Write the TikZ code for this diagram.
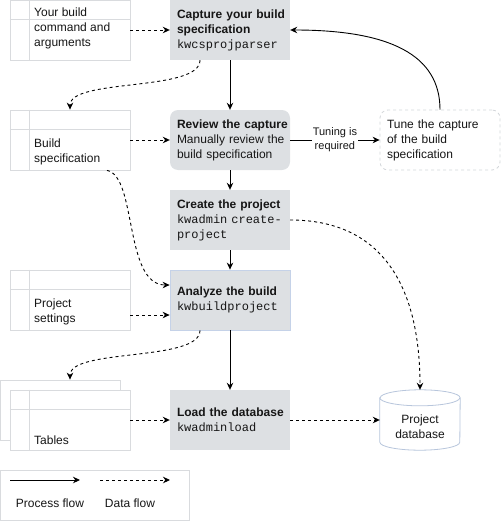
\documentclass[tikz,border=0pt]{standalone}
\usepackage{fontspec}
\setmainfont{Liberation Sans}
\setmonofont{Liberation Mono}
\usetikzlibrary{arrows.meta,calc}
\definecolor{boxfill}{HTML}{DDE0E3}
\definecolor{tabline}{HTML}{D9DBDE}
\definecolor{anaborder}{HTML}{C5D2E8}
\definecolor{dbborder}{HTML}{B8C6DC}
\definecolor{tuneborder}{HTML}{D3D6DA}
\definecolor{txt}{HTML}{161616}
\newcommand{\oneline}[1]{\mbox{#1}}
\begin{document}
\begin{tikzpicture}[x=1pt,y=-1pt,
  every node/.style={text=txt},
  fnt/.style={font=\fontsize{12}{15}\selectfont},
  procbox/.style={fnt, fill=boxfill, minimum width=120pt, minimum height=60pt,
    text width=106pt, inner xsep=7pt, inner ysep=0pt, align=left},
  tab/.style={draw=tabline, line width=0.8pt, fill=white, minimum width=120pt, minimum height=60pt, inner sep=0pt},
  tabln/.style={draw=tabline, line width=0.8pt},
  tabtext/.style={fnt, align=left, anchor=west, inner sep=0pt},
  flow/.style={line width=0.9pt, draw=black, -{Stealth[length=7pt,width=6.5pt]}},
  data/.style={flow, dash pattern=on 3pt off 3pt},
  lbl/.style={font=\fontsize{11}{14}\selectfont, fill=white, align=center, inner sep=1pt}
]
\useasboundingbox (0,0) rectangle (501,522);

% process boxes
\node[procbox] (cap) at (230,30) {\oneline{\textbf{Capture your build}}\\\oneline{\textbf{specification}}\\\oneline{\texttt{kwcsprojparser}}};
\node[procbox, rounded corners=8pt] (rev) at (230,140) {\oneline{\textbf{Review the capture}}\\\oneline{Manually review the}\\\oneline{build specification}};
\node[procbox] (cre) at (230,220) {\oneline{\textbf{Create the project}}\\\oneline{\texttt{kwadmin create-}}\\\oneline{\texttt{project}}};
\node[procbox, draw=anaborder, line width=0.8pt] (ana) at (230,300) {\oneline{\textbf{Analyze the build}}\\\oneline{\texttt{kwbuildproject}}};
\node[procbox] (load) at (230,420) {\oneline{\textbf{Load the database}}\\\oneline{\texttt{kwadminload}}};

% tune box
\node[fnt, draw=tuneborder, line width=0.8pt, dashed, rounded corners=8pt, minimum width=120pt, minimum height=60pt,
  text width=106pt, inner xsep=7pt, align=left] (tune) at (440,140) {\oneline{Tune the capture}\\\oneline{of the build}\\\oneline{specification}};

% tables
\node[tab] (t1) at (70,30) {};
\draw[tabln] ([xshift=20pt]t1.north west) -- ([xshift=20pt]t1.south west);
\draw[tabln] ([yshift=-20pt]t1.north west) -- ([yshift=-20pt]t1.north east);
\node[tabtext] (t1txt) at (34,28) {Your build\\command and\\arguments};

\node[tab] (t2) at (70,140) {};
\draw[tabln] ([xshift=20pt]t2.north west) -- ([xshift=20pt]t2.south west);
\draw[tabln] ([yshift=-20pt]t2.north west) -- ([yshift=-20pt]t2.north east);
\node[tabtext] (t2txt) at (34,152) {Build\\specification};

\node[tab] (t3) at (70,300) {};
\draw[tabln] ([xshift=20pt]t3.north west) -- ([xshift=20pt]t3.south west);
\draw[tabln] ([yshift=-20pt]t3.north west) -- ([yshift=-20pt]t3.north east);
\node[tabtext] (t3txt) at (34,312) {Project\\settings};

\node[tab] (tback) at (60,410) {};
\node[tab] (tabs) at (70,420) {};
\draw[tabln] ([xshift=20pt]tabs.north west) -- ([xshift=20pt]tabs.south west);
\draw[tabln] ([yshift=-20pt]tabs.north west) -- ([yshift=-20pt]tabs.north east);
\node[tabtext] (tabstxt) at (34,440) {Tables};

% database cylinder
\node[minimum width=80pt, minimum height=60pt, inner sep=0pt] (db) at (420,420) {};
\draw[draw=dbborder, line width=0.8pt, fill=white]
  ([yshift=-8pt]db.north west) -- ([yshift=8pt]db.south west)
  arc[start angle=180, end angle=360, x radius=40pt, y radius=8pt]
  -- ([yshift=-8pt]db.north east)
  arc[start angle=0, end angle=180, x radius=40pt, y radius=8pt] -- cycle;
\draw[draw=dbborder, line width=0.8pt] ([yshift=-8pt]db.north west)
  arc[start angle=180, end angle=360, x radius=40pt, y radius=8pt];
\node[fnt, align=center, inner sep=0pt] (dbtxt) at (420,427) {Project\\database};

% process flow
\draw[flow] (cap.south) -- (rev.north);
\draw[flow] (rev.south) -- (cre.north);
\draw[flow] (cre.south) -- (ana.north);
\draw[flow] (ana.south) -- (load.north);
\draw[flow] (rev.east) -- node[lbl] (tunelbl) {Tuning is\\required} (tune.west);
\draw[flow] (tune.north) .. controls (440,55) and (390,30) .. (cap.east);

% data flow
\draw[data] (t1.east) -- (cap.west);
\draw[data] (t2.east) -- (rev.west);
\draw[data] ([yshift=-15pt]t3.east) -- ([yshift=-15pt]ana.west);
\draw[data] (tabs.east) -- (load.west);
\draw[data] (load.east) -- (db.west);
\draw[data] ([xshift=-30pt]cap.south) .. controls (200,92) and (70,78) .. (t2.north);
\draw[data] ([xshift=37pt]t2.south) .. controls (137,176) and (124,285) .. ([yshift=15pt]ana.west);
\draw[data] ([xshift=-30pt]ana.south) .. controls (200,362) and (70,348) .. (tback.north -| t2.north);
\draw[data] (cre.east) .. controls (385,220) and (420,290) .. (db.north);

% legend
\node[draw=tabline, line width=0.8pt, minimum width=189pt, minimum height=50pt, inner sep=0pt] (leg) at (95,495) {};
\coordinate (p1) at (10,480);
\coordinate (p2) at (80,480);
\coordinate (d1) at (100,480);
\coordinate (d2) at (170,480);
\draw[flow] (p1) -- (p2);
\draw[data] (d1) -- (d2);
\node[fnt, inner sep=0pt] (lp) at (50,503) {Process flow};
\node[fnt, inner sep=0pt] (ld) at (130,503) {Data flow};
\end{tikzpicture}
\end{document}
